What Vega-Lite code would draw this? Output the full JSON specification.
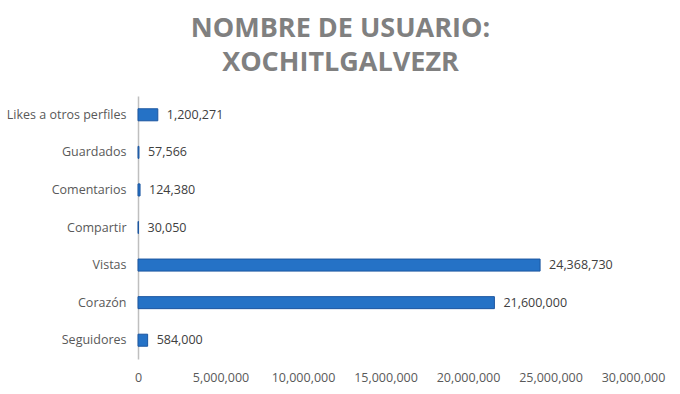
{
  "$schema": "https://vega.github.io/schema/vega-lite/v6.json",
  "width": 495,
  "height": 263,
  "autosize": {"type": "none"},
  "padding": {"left": 138, "top": 96, "right": 47, "bottom": 35},
  "background": "white",
  "title": {
    "text": ["NOMBRE DE USUARIO:", "XOCHITLGALVEZR"],
    "font": "Open Sans",
    "fontSize": 27,
    "fontWeight": "bold",
    "color": "#808080",
    "anchor": "middle",
    "dx": -45,
    "offset": 19,
    "lineHeight": 34,
    "limit": 600
  },
  "config": {
    "view": {"stroke": null},
    "font": "Open Sans",
    "text": {"font": "Open Sans"}
  },
  "data": {
    "values": [
      {"categoria": "Likes a otros perfiles", "valor": 1200271},
      {"categoria": "Guardados", "valor": 57566},
      {"categoria": "Comentarios", "valor": 124380},
      {"categoria": "Compartir", "valor": 30050},
      {"categoria": "Vistas", "valor": 24368730},
      {"categoria": "Corazón", "valor": 21600000},
      {"categoria": "Seguidores", "valor": 584000}
    ]
  },
  "encoding": {
    "y": {
      "field": "categoria",
      "type": "nominal",
      "sort": null,
      "title": null,
      "scale": {"paddingInner": 0.68, "paddingOuter": 0.34},
      "axis": {
        "ticks": false,
        "domainColor": "#bfbfbf",
        "domainWidth": 1.5,
        "labelPadding": 12,
        "labelFontSize": 12.5,
        "labelColor": "#595959",
        "labelFont": "Open Sans",
        "labelLimit": 200
      }
    },
    "x": {
      "field": "valor",
      "type": "quantitative",
      "title": null,
      "scale": {"domain": [0, 30000000], "nice": false},
      "axis": {
        "values": [0, 5000000, 10000000, 15000000, 20000000, 25000000, 30000000],
        "labelExpr": "format(datum.value, ',')",
        "domain": false,
        "ticks": false,
        "grid": false,
        "labelPadding": 12,
        "labelFontSize": 12.5,
        "labelColor": "#595959",
        "labelFont": "Open Sans",
        "labelFlush": false
      }
    }
  },
  "layer": [
    {
      "mark": {"type": "bar", "color": "#2572c6", "stroke": "#1c56a0", "strokeWidth": 1}
    },
    {
      "mark": {"type": "text", "align": "left", "dx": 9, "fontSize": 12.5, "color": "#404040", "font": "Open Sans"},
      "encoding": {"text": {"field": "valor", "type": "quantitative", "format": ","}}
    }
  ]
}
